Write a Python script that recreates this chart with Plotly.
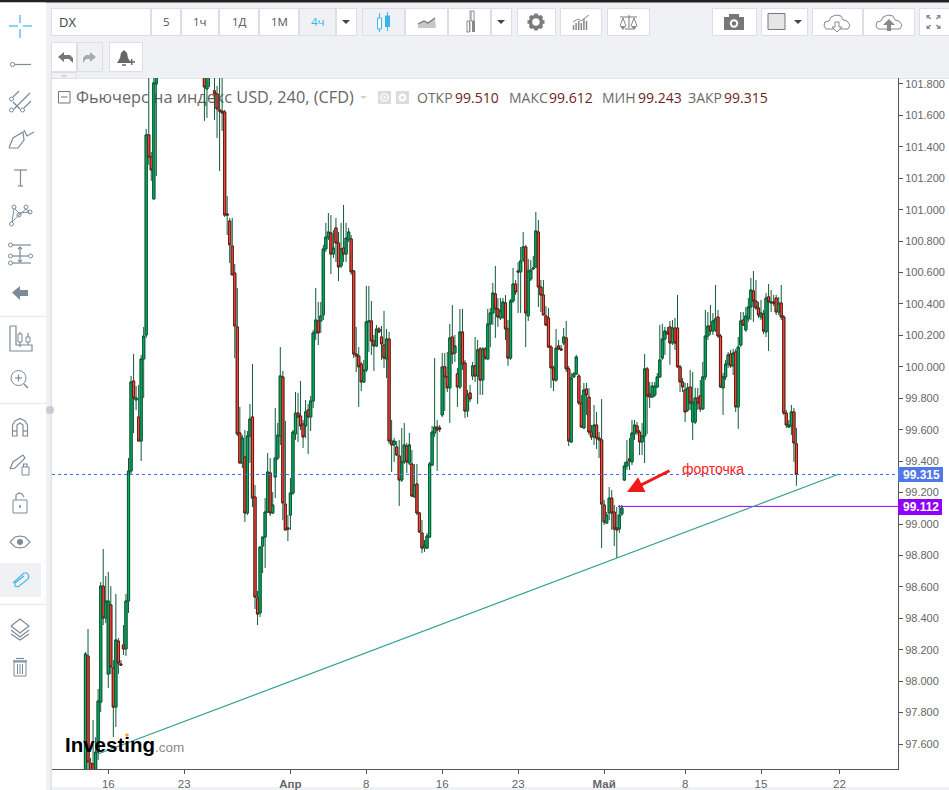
import plotly.graph_objects as go

# ---------------- data (one 4h bar per entry) ----------------
opens = [
97.403,98.160,97.479,97.473,97.403,97.549,97.867,98.605,98.402,98.045,
98.485,98.084,97.835,98.255,98.109,98.230,98.205,98.510,99.337,99.910,
99.789,99.681,99.528,100.050,100.203,101.476,101.336,101.068,101.800,
102.10,102.20,102.25,102.15,102.30,102.35,102.28,102.20,102.12,102.05,102.15,102.22,102.30,102.24,102.18,102.10,102.02,102.08,
101.921,101.768,101.877,101.921,101.756,101.737,101.635,101.628,101.622,100.973,100.928,100.769,100.597,100.254,99.579,
99.388,99.426,99.070,99.560,99.681,99.172,98.529,98.434,98.860,98.917,
99.076,99.325,99.070,99.299,99.420,99.560,99.936,99.127,98.975,99.057,
99.197,99.573,99.706,99.687,99.636,99.624,99.725,99.681,99.783,100.216,
100.292,100.292,100.330,100.750,100.826,100.852,100.718,100.884,100.788,100.642,
100.756,100.718,100.814,100.814,100.610,100.082,100.069,100.018,99.904,99.980,
100.286,100.292,100.165,100.133,100.241,100.190,100.139,100.050,100.177,99.528,
99.503,99.490,99.433,99.280,99.395,99.496,99.388,99.382,99.172,99.255,
99.070,98.943,98.847,98.847,98.917,99.375,99.579,99.617,99.611,99.694,
100.000,99.936,99.866,100.190,100.088,99.955,99.872,100.222,100.025,99.719,
99.834,99.942,100.006,99.942,100.114,99.916,100.114,100.050,100.273,100.343,
100.464,100.368,100.311,100.317,100.407,100.241,100.056,100.419,100.527,100.610,
100.604,100.680,100.763,100.324,100.559,100.623,100.636,100.858,100.508,100.457,
100.324,100.311,100.126,99.993,99.916,100.133,100.114,100.152,100.184,99.987,
99.522,99.936,99.955,99.942,99.770,99.611,99.859,99.808,99.585,99.554,
99.630,99.547,99.535,99.121,99.006,99.070,99.165,99.076,98.975,98.968,
99.064,99.280,99.369,99.414,99.395,99.573,99.624,99.585,99.522,99.560,
99.987,99.827,99.808,99.821,99.872,99.936,100.056,100.177,100.222,100.254,
100.152,100.247,100.247,100.000,99.904,99.853,99.725,99.872,99.649,99.649,
99.802,99.815,99.732,99.936,100.196,100.260,100.228,100.235,100.317,100.196,
99.866,99.936,100.018,100.082,100.006,100.095,99.745,100.139,100.298,100.235,
100.305,100.381,100.483,100.419,100.375,100.317,100.336,100.222,100.445,100.406,
100.413,100.438,100.349,100.406,100.317,99.706,99.617,99.624,99.713,99.510]
highs = [
98.185,98.332,97.511,97.753,97.644,97.950,98.631,98.841,98.669,98.695,
98.605,98.134,98.555,98.275,98.134,98.357,98.555,99.420,99.942,100.082,
99.878,99.885,100.076,100.254,101.514,101.889,101.367,101.953,102.080,
102.28,102.33,102.33,102.38,102.43,102.43,102.36,102.28,102.20,102.23,102.30,102.38,102.38,102.32,102.26,102.18,102.16,102.16,
102.017,101.985,102.017,102.017,101.953,101.788,101.889,101.889,101.635,101.087,100.947,100.947,100.655,100.502,99.745,
99.566,99.598,99.592,99.764,100.018,99.248,98.574,98.854,98.917,99.165,
99.452,99.420,99.204,99.738,99.643,100.126,99.974,99.656,99.057,99.293,
99.598,99.840,99.834,99.910,99.662,99.789,99.764,99.815,100.235,100.502,
100.413,100.413,100.776,100.916,100.979,100.966,100.871,100.947,100.858,100.916,
101.030,100.916,100.884,100.839,100.616,100.254,100.126,100.031,100.044,100.515,
100.515,100.419,100.203,100.266,100.254,100.260,100.356,100.241,100.222,99.662,
99.547,99.528,99.535,99.611,99.643,99.516,99.579,99.471,99.382,99.382,
99.076,99.025,98.898,98.943,99.395,99.624,100.056,99.662,99.630,100.088,
100.088,100.095,100.273,100.394,100.203,99.993,100.368,100.368,100.044,99.853,
99.885,100.031,100.190,100.171,100.126,100.126,100.126,100.368,100.375,100.534,
100.642,100.438,100.438,100.438,100.457,100.298,100.432,100.629,100.553,100.667,
100.763,100.858,100.776,100.686,100.680,100.705,100.986,100.935,100.553,100.553,
100.387,100.375,100.139,100.006,100.241,100.171,100.139,100.247,100.292,100.006,
99.961,99.967,100.076,99.955,99.821,99.897,99.897,99.866,99.630,99.757,
99.713,99.585,99.795,99.153,99.076,99.235,99.216,99.121,99.108,99.121,
99.121,99.395,99.535,99.547,99.662,99.662,99.649,99.598,99.643,100.082,
100.000,99.904,99.904,99.904,99.961,100.266,100.273,100.254,100.254,100.292,
100.298,100.311,100.457,100.013,99.929,99.897,99.897,99.980,99.967,99.866,
99.866,99.916,100.031,100.362,100.349,100.394,100.343,100.521,100.362,100.209,
99.961,100.044,100.095,100.108,100.114,100.114,100.190,100.349,100.349,100.381,
100.438,100.566,100.610,100.553,100.413,100.426,100.362,100.470,100.527,100.489,
100.458,100.458,100.445,100.521,100.330,99.725,99.662,99.757,99.738,99.612]
lows = [
97.371,97.434,97.371,97.371,97.371,97.498,97.804,98.357,98.370,97.956,
98.045,97.644,97.708,98.045,98.096,98.166,98.160,98.434,99.318,99.579,
99.725,99.528,99.401,99.802,100.184,101.285,101.183,101.068,101.215,
102.03,102.14,102.09,102.09,102.24,102.22,102.14,102.06,101.99,101.99,102.09,102.16,102.18,102.12,102.04,101.96,101.96,101.89,
101.565,101.584,101.781,101.877,101.571,101.456,101.246,101.501,100.954,100.839,100.661,100.585,100.056,99.560,99.388,
99.356,99.013,99.057,99.388,99.108,98.459,98.357,98.408,98.688,98.720,
99.070,99.051,99.064,99.165,99.407,99.503,99.025,98.962,98.892,98.962,
99.185,99.535,99.522,99.598,99.484,99.547,99.445,99.592,99.738,100.171,
100.139,100.216,100.298,100.731,100.807,100.591,100.693,100.667,100.546,100.629,
100.667,100.667,100.795,100.585,100.056,99.967,99.745,99.846,99.897,99.967,
100.095,100.076,99.974,100.126,100.216,100.044,99.994,99.929,99.509,99.331,
99.395,99.433,99.115,99.267,99.382,99.325,99.375,99.172,99.172,99.057,
98.943,98.815,98.822,98.841,98.911,99.369,99.554,99.338,99.585,99.681,
99.719,99.840,99.643,100.018,100.031,99.745,99.859,99.980,99.675,99.681,
99.776,99.916,99.904,99.764,99.821,99.821,100.044,100.044,100.126,100.266,
100.184,100.254,100.298,100.305,100.171,100.006,100.044,100.406,100.457,100.343,
100.343,100.667,100.126,100.292,100.546,100.616,100.629,100.381,100.349,100.330,
100.260,100.120,99.866,99.846,99.904,100.107,100.101,100.139,99.967,99.496,
99.516,99.929,99.948,99.757,99.611,99.605,99.694,99.566,99.535,99.503,
99.477,99.420,98.847,98.994,99.000,99.025,98.962,98.860,98.784,98.943,
99.051,99.274,99.344,99.344,99.375,99.535,99.566,99.439,99.439,99.388,
99.573,99.738,99.802,99.808,99.866,99.929,100.044,100.076,100.209,100.013,
100.139,100.108,99.994,99.840,99.840,99.649,99.713,99.725,99.535,99.636,
99.725,99.713,99.725,99.916,100.171,100.203,100.203,100.222,100.184,99.866,
99.694,99.916,99.993,99.993,99.948,99.713,99.605,100.126,100.260,100.222,
100.286,100.298,100.286,100.362,100.311,100.298,100.209,100.190,100.101,100.349,
100.387,100.330,100.330,100.298,99.694,99.611,99.611,99.566,99.395,99.243]
closes = [
98.173,97.485,97.422,97.403,97.549,97.874,98.605,98.402,98.510,98.510,
98.090,97.835,98.262,98.115,98.103,98.205,98.510,99.337,99.904,99.802,
99.802,99.528,100.050,100.196,101.476,101.336,101.253,101.807,101.953,
102.20,102.25,102.15,102.30,102.35,102.28,102.20,102.12,102.05,102.15,102.22,102.30,102.24,102.18,102.10,102.02,102.08,101.95,
101.781,101.889,101.921,101.953,101.737,101.641,101.628,101.616,100.966,100.966,100.776,100.585,100.260,99.573,99.388,
99.547,99.070,99.560,99.668,99.165,98.535,98.427,98.854,98.917,99.076,
99.331,99.070,99.121,99.420,99.566,99.942,99.134,98.962,98.968,99.197,
99.585,99.706,99.681,99.624,99.554,99.713,99.681,99.783,100.216,100.298,
100.216,100.324,100.750,100.826,100.858,100.718,100.756,100.788,100.636,100.750,
100.718,100.820,100.858,100.604,100.082,100.069,100.000,99.904,99.980,100.286,
100.292,100.165,100.133,100.241,100.222,100.146,100.056,100.177,99.528,99.503,
99.528,99.439,99.280,99.395,99.503,99.395,99.503,99.178,99.248,99.070,
98.949,98.847,98.866,98.924,99.382,99.585,99.617,99.598,99.605,100.000,
99.936,99.866,100.184,100.082,100.133,99.872,100.222,100.018,99.719,99.821,
99.796,100.006,99.942,100.108,99.916,100.114,100.056,100.273,100.343,100.470,
100.368,100.317,100.356,100.413,100.241,100.056,100.419,100.527,100.476,100.604,
100.674,100.763,100.343,100.610,100.616,100.629,100.865,100.508,100.457,100.330,
100.266,100.126,99.994,99.916,100.120,100.114,100.108,100.190,99.987,99.528,
99.929,99.955,100.063,99.770,99.617,99.853,99.821,99.585,99.554,99.630,
99.547,99.535,99.127,99.013,99.057,99.165,99.070,98.968,98.962,99.057,
99.102,99.369,99.395,99.401,99.579,99.630,99.585,99.522,99.560,99.987,
99.815,99.808,99.878,99.878,99.936,100.044,100.177,100.228,100.209,100.152,
100.247,100.152,100.000,99.904,99.872,99.713,99.866,99.770,99.776,99.802,
99.770,99.732,99.936,100.196,100.260,100.228,100.292,100.305,100.196,99.872,
99.936,100.018,100.076,100.006,100.088,99.745,100.126,100.292,100.266,100.324,
100.381,100.489,100.419,100.375,100.330,100.343,100.228,100.438,100.413,100.413,
100.406,100.349,100.406,100.317,99.706,99.630,99.630,99.713,99.516,99.315]

x_tick_labels = ["16", "23", "<b>Апр</b>", "8", "16", "23", "<b>Май</b>", "8", "15", "22"]
x_tick_bars = [9, 39, 81, 111, 141, 171, 205, 237, 267, 298]

last_close = 99.315
level_price = 99.112
level_start_bar = 210.5
trend_bars = [4.9, 297.9]
trend_prices = [97.536, 99.318]
header_title = "Фьючерс на индекс USD, 240, (CFD)"
ohlc_names = ["ОТКР", "МАКС", "МИН", "ЗАКР"]
ohlc_values = ["99.510", "99.612", "99.243", "99.315"]

bars = list(range(len(opens)))
assert len(opens) == len(highs) == len(lows) == len(closes), (len(opens), len(highs), len(lows), len(closes))

# ---------------- page geometry ----------------
W, H = 949, 790
PL, PR, PT, PB = 52, 898, 78, 769
PW, PH = PR - PL, PB - PT
def X(p): return (p - PL) / PW
def Y(p): return 1 - (p - PT) / PH

GREY = "#7b7b7b"
SLATE = "#7c8b99"
BLUE = "#3bb4ec"
BORDER = "#dcdee3"
PAGE = "#f0f1f5"

shapes, notes = [], []
def rect(x0, y0, x1, y1, fill=None, line=None, lw=1, layer="below"):
    shapes.append(dict(type="rect", xref="paper", yref="paper", x0=X(x0), x1=X(x1), y0=Y(y0), y1=Y(y1),
                       fillcolor=fill or "rgba(0,0,0,0)", line=dict(color=line or "rgba(0,0,0,0)", width=lw if line else 0), layer=layer))
def circ(cx, cy, r, fill=None, line=None, lw=1, layer="above"):
    shapes.append(dict(type="circle", xref="paper", yref="paper", x0=X(cx-r), x1=X(cx+r), y0=Y(cy-r), y1=Y(cy+r),
                       fillcolor=fill or "rgba(0,0,0,0)", line=dict(color=line or "rgba(0,0,0,0)", width=lw if line else 0), layer=layer))
def path(pts, line=None, lw=1.2, fill=None, closed=False, layer="above"):
    d = "M" + " L".join(f"{X(a):.5f},{Y(b):.5f}" for a, b in pts) + (" Z" if closed else "")
    shapes.append(dict(type="path", xref="paper", yref="paper", path=d,
                       fillcolor=fill or "rgba(0,0,0,0)", line=dict(color=line or "rgba(0,0,0,0)", width=lw if line else 0), layer=layer))
def label(px, py, text, size=12, color="#555", anchor="center", family="Open Sans"):
    if anchor == "left":
        px -= 2
    notes.append(dict(xref="paper", yref="paper", x=X(px), y=Y(py), text=text, showarrow=False,
                      xanchor=anchor, yanchor="middle", font=dict(size=size, color=color, family=family)))

# ---------------- page panels ----------------
rect(0, 0, 949, 2.5, fill="#222222")
rect(0, 2.5, 46, 790, fill="#ffffff")
rect(PL, PB, 949, 787, fill="#ffffff")
rect(PR, PT, 949, PB, fill="#ffffff")
rect(51, 78, 949, 78.8, fill=BORDER)
rect(50.5, 78, 52, 790, fill="#dfe1e6")
circ(50, 410, 4, fill="#c9cbd0", layer="below")

# ---------------- top buttons ----------------
def button(x0, x1, y0=8, y1=36, fill="#ffffff"):
    rect(x0 + .5, y0 + .5, x1 - .5, y1 - .5, fill=fill, line=BORDER)
for a, b in [(51, 151), (151, 181), (181, 219), (219, 259), (259, 299)]:
    button(a, b)
button(299, 336, fill=PAGE)
button(336, 357)
button(362, 405, fill=PAGE)
for a, b in [(405, 448), (448, 491), (491, 512), (517, 556), (560, 602), (607, 650), (712, 757), (761, 808), (812, 863), (863, 915), (919, 952)]:
    button(a, b)
button(51, 77, 42, 72); button(77, 103, 42, 72, fill=PAGE); button(109, 143, 42, 72)
button(51, 77, 72, 79, fill=PAGE)
path([(61, 77), (67, 77), (64, 74)], fill="#cfd2d8", closed=True)

label(59, 22, "DX", 13, "#444", "left")
for px_, t in [(166, "5"), (200, "1ч"), (239, "1Д"), (279, "1М")]:
    label(px_, 21.5, t, 11.5, "#555")
label(318, 21.5, "4ч", 11.5, BLUE)
for cx in [346, 501, 798]:
    path([(cx-4, 20), (cx+4, 20), (cx, 24)], fill="#444", closed=True)

# candle icon
path([(379.5, 13), (379.5, 32)], BLUE, 1); rect(377.5, 18, 381.5, 29, fill="#ffffff", line=BLUE, layer="above")
path([(387.5, 12), (387.5, 31)], BLUE, 1); rect(385, 15.5, 390, 27, fill=BLUE, layer="above")
# area icon
path([(418, 28), (418, 24), (424, 21), (428, 23), (435, 18), (436, 28)], fill="#c8c8c8", closed=True)
path([(418, 24), (424, 21), (428, 23), (435, 18)], "#777", 1.2)
# bars icon
path([(470, 10), (470, 32)], "#aaa", 1); rect(467, 21, 469.5, 32, fill="#ffffff", line="#888", layer="above")
rect(471, 11, 474, 21, fill="#ffffff", line="#888", layer="above"); rect(472, 21, 475, 32, fill="#888", layer="above")
# gear
circ(536, 22, 5.5, line=GREY, lw=3.5)
for a, b, c, d in [(536, 13.5, 536, 30.5), (527.5, 22, 544.5, 22), (530, 16, 542, 28), (542, 16, 530, 28)]:
    dx = (c - a) * .12; dy = (d - b) * .12
    path([(a, b), (a + dx, b + dy)], GREY, 3.5); path([(c, d), (c - dx, d - dy)], GREY, 3.5)
# indicators
for i, h_ in enumerate([5, 7, 9, 7, 11, 9]):
    path([(573.5 + i * 2.6, 30), (573.5 + i * 2.6, 30 - h_)], "#888", 1.5)
path([(573, 22), (578, 19), (581, 21), (589, 15)], "#888", 1)
# scales
path([(620, 17), (637, 17)], "#777", 1); path([(629, 15), (629, 28)], "#777", 1); path([(625, 29), (633, 29)], "#777", 1)
path([(620, 26), (623, 18), (626, 26)], "#777", .9); path([(620, 26), (626, 26), (623, 30)], fill="#888", closed=True)
path([(631, 26), (634, 18), (637, 26)], "#777", .9); path([(631, 26), (637, 26), (634, 30)], fill="#888", closed=True)
# camera
rect(724, 17, 744, 30, fill="#777", layer="above"); rect(729, 14, 739, 18, fill="#777", layer="above")
circ(734, 23.5, 4.2, fill="#ffffff"); circ(734, 23.5, 2.2, fill="#777")
# colour box
rect(768, 13.5, 785, 29.5, fill="#e6e6e6", line="#777", layer="above")
# clouds
def cloud(cx, outline, fill=None):
    pts = [(cx-11, 29), (cx-13, 26), (cx-12, 22), (cx-8, 21), (cx-6, 17), (cx-1, 15), (cx+4, 16), (cx+6, 20), (cx+10, 21), (cx+13, 25), (cx+11, 29)]
    path(pts, outline, 1, closed=True, fill="#ffffff")
cloud(837, "#888"); cloud(889, "#888")
path([(835, 22), (839, 22), (839, 27), (842, 27), (837, 32), (832, 27), (835, 27)], "#888", 1, fill="#ffffff", closed=True)
path([(887, 31), (891, 31), (891, 25), (895, 25), (889, 19), (883, 25), (887, 25)], fill="#888", closed=True)
# fullscreen
for sx, sy in [(-1, -1), (1, -1), (-1, 1), (1, 1)]:
    path([(933.5 + sx * 3, 22 + sy * 3), (933.5 + sx * 6, 22 + sy * 6)], "#888", 1.6)
    path([(933.5 + sx * 7, 22 + sy * 7), (933.5 + sx * 3, 22 + sy * 7), (933.5 + sx * 7, 22 + sy * 3)], fill="#888", closed=True)
# undo/redo/alert
path([(58, 57), (64, 52), (64, 55), (70, 55), (73, 58), (73, 63), (69, 59), (64, 59), (64, 62)], fill="#777", closed=True)
path([(96, 57), (90, 52), (90, 55), (86, 55), (83, 58), (83, 63), (86, 59), (90, 59), (90, 62)], fill="#aaa", closed=True)
path([(117, 63), (120, 58), (121, 53), (124, 50), (127, 53), (128, 58), (131, 63)], fill="#666", closed=True)
path([(122, 65), (126, 65)], "#666", 1.5)
path([(128.5, 62), (135, 62)], "#666", 1.5); path([(131.7, 59), (131.7, 65)], "#666", 1.5)

# ---------------- left toolbar ----------------
for a, b, c, d in [(9, 26, 18, 26), (23, 26, 32, 26), (20, 15, 20, 23), (20, 29, 20, 38)]:
    path([(a, b), (c, d)], BLUE, 1.2)
circ(12.5, 64.5, 2.1, line=SLATE); path([(15, 64.5), (31, 64.5)], SLATE)
for pts in [[(13, 97), (19, 91)], [(14, 109), (30, 93)], [(24, 108), (31, 101)], [(13, 102), (20, 109)]]:
    path(pts, SLATE)
circ(11.5, 99, 2, line=SLATE); circ(11.5, 110, 2, line=SLATE); circ(22.5, 110, 2, line=SLATE)
path([(9, 148), (13, 138), (23, 132), (24, 140), (18, 148), (9, 148)], SLATE)
path([(24, 130), (27, 136), (34, 132)], SLATE)
path([(14, 170), (27, 170)], SLATE); path([(20.5, 170), (20.5, 186)], SLATE); path([(18, 186), (23, 186)], SLATE)
for cx, cy in [(14, 207), (26, 207), (19, 215), (30, 212), (11.5, 224)]:
    circ(cx, cy, 2, line=SLATE)
path([(14, 209), (12, 222), (19, 215), (26, 209), (30, 214)], SLATE, 1)
path([(15, 209), (19, 213), (29, 212)], SLATE, 1)
for yy, x0_, x1_, cxs in [(245, 12, 31, [10.5]), (256, 12, 29, [10.5, 30.5]), (263, 12, 31, [10.5])]:
    path([(x0_, yy), (x1_, yy)], SLATE)
    for c in cxs:
        circ(c, yy, 2, line=SLATE)
path([(20, 247), (20, 262)], SLATE); path([(18, 249), (20, 247), (22, 249)], SLATE); path([(18, 260), (20, 262), (22, 260)], SLATE)
path([(12, 292.5), (20, 286), (20, 290), (28, 290), (28, 296), (20, 296), (20, 300)], fill=SLATE, closed=True)
rect(0, 316, 46, 317, fill="#e2eaf0")
path([(10, 326), (10, 351), (32, 351), (32, 345), (16, 345), (16, 326), (10, 326)], SLATE)
path([(20, 332), (20, 347)], SLATE); rect(18, 334, 22, 342, line=SLATE, fill="#ffffff", layer="above")
path([(28, 333), (28, 345)], SLATE); rect(26, 337, 30, 342, line=SLATE, fill="#ffffff", layer="above")
circ(18.5, 378, 7.5, line=SLATE); path([(15, 378), (22, 378)], SLATE); path([(18.5, 374.5), (18.5, 381.5)], SLATE); path([(24, 384), (28, 388)], SLATE, 1.5)
rect(0, 403, 46, 404, fill="#e2eaf0")
path([(12.5, 436), (12.5, 425), (15, 421), (20, 418.5), (25, 421), (27.5, 425), (27.5, 436), (23, 436), (23, 425), (20, 423), (17, 425), (17, 436), (12.5, 436)], SLATE)
path([(12.5, 431), (17, 431)], SLATE); path([(23, 431), (27.5, 431)], SLATE)
path([(10, 469), (13, 462), (23, 455), (25, 458), (15, 468), (10, 469)], SLATE)
rect(22, 467, 29, 475, line=SLATE, layer="above"); path([(23.5, 467), (23.5, 464), (27, 464), (27, 467)], SLATE)
rect(13, 500, 27, 513, line=SLATE, layer="above"); path([(16, 500), (16, 495), (19, 493), (22, 494), (24, 497)], SLATE); path([(20, 505), (20, 508)], SLATE, 1.6)
path([(10, 542), (15, 537), (20, 536), (25, 537), (30, 542), (25, 547), (20, 548), (15, 547), (10, 542)], SLATE); circ(20, 542, 3, fill=SLATE)
rect(0, 563, 41, 597, fill=PAGE)
path([(13, 583), (24, 573), (27, 573), (29, 576), (28, 579), (18, 587), (15, 586), (15, 583), (24, 576)], BLUE, 1.1)
rect(0, 604, 46, 605, fill="#e2eaf0")
path([(11, 626), (20, 619), (29, 626), (20, 633), (11, 626)], SLATE)
path([(11, 630), (20, 637), (29, 630)], SLATE); path([(11, 634), (20, 640), (29, 634)], SLATE)
path([(13, 661), (27, 661)], SLATE, 1.5); path([(16, 658.5), (24, 658.5)], SLATE, 1.2)
rect(14, 662, 26, 676, line=SLATE, layer="above")
for xx in [17.5, 20, 22.5]:
    path([(xx, 664), (xx, 674)], SLATE, 1)

# ---------------- legend row ----------------
rect(58.5, 91.5, 70, 103, line="#777", layer="below"); path([(61, 97), (67.5, 97)], "#777", 1, layer="below")
path([(360, 96), (367, 96), (363.5, 99)], fill="#d0d0d0", closed=True)
rect(378, 91, 391, 104, fill="#dcdcdc", layer="below"); circ(384.5, 97.5, 3.6, line="#ffffff", lw=1.4); circ(384.5, 97.5, 1.2, fill="#ffffff")
rect(396, 91, 409, 104, fill="#dcdcdc", layer="below"); circ(402.5, 97.5, 2.8, line="#ffffff", lw=2.2)
name_x = [417, 509, 602, 688]
value_x = [455, 549, 638, 724]
for nx, vx, n, v in zip(name_x, value_x, ohlc_names, ohlc_values):
    label(nx, 97.5, n, 14, "#6a6a6a", "left")
    label(vx, 97.5, v, 14, "#6e2222", "left")

# ---------------- drawn objects on the price chart ----------------
shapes.append(dict(type="line", xref="paper", yref="y2", x0=0, x1=1, y0=last_close, y1=last_close,
                   line=dict(color="#3f6df0", width=1, dash="dot"), layer="above"))
shapes.append(dict(type="line", xref="x2", yref="y2", x0=level_start_bar, x1=321.15, y0=level_price, y1=level_price,
                   line=dict(color="#9400ff", width=1), layer="above"))
shapes.append(dict(type="line", xref="x2", yref="y2", x0=trend_bars[0], x1=trend_bars[1], y0=trend_prices[0], y1=trend_prices[1],
                   line=dict(color="#2f9f8f", width=1.1), layer="above"))
rect(898, 467, 943, 482, fill="#5078e8", layer="above")
rect(898, 499, 942, 515, fill="#8f00ff", layer="above")
label(921, 474.5, f"<b>{last_close:.3f}</b>", 12, "#ffffff", family="Liberation Sans")
label(921, 507, f"<b>{level_price:.3f}</b>", 12, "#ffffff", family="Liberation Sans")
label(682, 469, "форточка", 14, "#ff2020", "left", "Liberation Sans")
notes.append(dict(xref="paper", yref="paper", x=X(627), y=Y(492), ax=44, ay=-22, axref="pixel", ayref="pixel", text="",
                  showarrow=True, arrowhead=2, arrowsize=1.1, arrowwidth=3, arrowcolor="#f01818"))
label(65, 744, "<b>Investing</b>", 20.5, "#000000", "left", "Liberation Sans")
label(155, 747, ".com", 13.5, "#8a8a8a", "left", "Liberation Sans")
circ(127, 735, 1.7, fill="#f5a623")

# ---------------- figure ----------------
fig = go.Figure()
fig.add_trace(go.Scatter(x=[X(76)], y=[Y(98.5)], text=[header_title], mode="text", textposition="middle right",
                         textfont=dict(size=16.3, color="#666666", family="Open Sans"), xaxis="x", yaxis="y",
                         hoverinfo="skip", cliponaxis=False, showlegend=False))
WICK = "#0f5c3a"
UP_FILL, DOWN_FILL = "#00b35f", "#ff4a3d"
fig.add_trace(go.Candlestick(x=bars, open=opens, high=highs, low=lows, close=closes, xaxis="x2", yaxis="y2",
                             increasing=dict(line=dict(color=WICK, width=1), fillcolor=UP_FILL),
                             decreasing=dict(line=dict(color=WICK, width=1), fillcolor=DOWN_FILL),
                             showlegend=False))
fig.add_trace(go.Candlestick(x=bars, open=opens, close=closes, xaxis="x2", yaxis="y2",
                             high=[max(a, b) for a, b in zip(opens, closes)],
                             low=[min(a, b) for a, b in zip(opens, closes)],
                             increasing=dict(line=dict(color=WICK, width=1), fillcolor=UP_FILL),
                             decreasing=dict(line=dict(color="#6b1a14", width=1), fillcolor=DOWN_FILL),
                             showlegend=False, hoverinfo="skip"))

fig.update_layout(
    width=W, height=H, margin=dict(l=PL, r=W - PR, t=PT, b=H - PB, pad=0, autoexpand=False),
    paper_bgcolor=PAGE, plot_bgcolor="#ffffff", showlegend=False, boxgap=0.0, boxgroupgap=0.15,
    xaxis=dict(visible=False, range=[0, 1], fixedrange=True),
    yaxis=dict(visible=False, range=[0, 1], fixedrange=True),
    xaxis2=dict(overlaying="x", anchor="y2", range=[-13.24, 321.15], rangeslider=dict(visible=False),
                tickmode="array", tickvals=x_tick_bars, ticktext=x_tick_labels, showgrid=False, zeroline=False,
                showline=True, linecolor="#555555", linewidth=1, ticks="outside", ticklen=4, tickcolor="#555555",
                tickfont=dict(size=11.5, color="#666666", family="Liberation Sans")),
    yaxis2=dict(overlaying="y", anchor="x2", side="right", range=[97.441, 101.838], tick0=97.6, dtick=0.2,
                tickformat=".3f", showgrid=False, zeroline=False, showline=True, linecolor="#555555", linewidth=1,
                ticks="outside", ticklen=4, tickcolor="#555555",
                tickfont=dict(size=11, color="#666666", family="Liberation Sans")),
    shapes=shapes, annotations=notes,
)
fig.write_html("out.html", post_script="document.body.style.margin='0';", config=dict(displayModeBar=False))
